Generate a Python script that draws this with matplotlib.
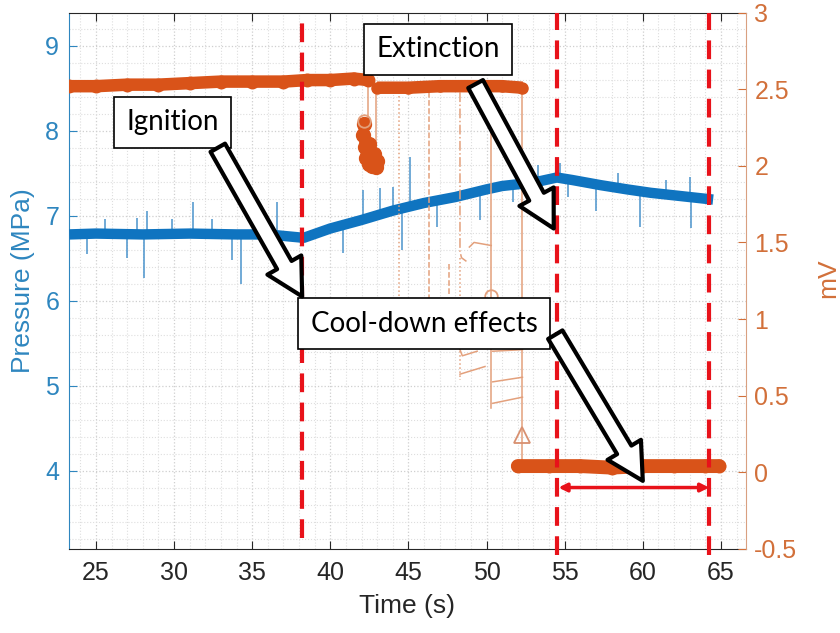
import matplotlib.pyplot as plt
from matplotlib.ticker import MultipleLocator, FormatStrFormatter

# pressure trace (MPa) - centre of the noisy band
p_time = [23.3, 25, 28, 31, 34, 36, 38.3, 40, 42, 44, 46, 48, 50, 51, 52, 53.5, 54.5,
          55.5, 57.3, 59, 60.5, 62, 64.5]
p_val = [6.78, 6.79, 6.78, 6.79, 6.78, 6.78, 6.74, 6.85, 6.95, 7.06, 7.15, 7.22, 7.31,
         7.35, 7.37, 7.41, 7.45, 7.42, 7.36, 7.31, 7.27, 7.24, 7.19]

# spikes on the pressure trace: time, band value, spike tip
spike_t = [24.4, 25.6, 27.0, 27.6, 28.1, 28.3, 29.9, 31.2, 32.4, 33.7, 34.3, 35.5, 36.6,
           40.8, 42.1, 43.2, 44.0, 44.6, 45.1, 46.8, 49.6, 51.7, 53.3, 54.7, 55.2, 57.0,
           58.4, 59.8, 61.5, 63.0, 63.1]
spike_base = [6.78, 6.79, 6.78, 6.78, 6.78, 6.78, 6.79, 6.79, 6.78, 6.78, 6.78, 6.78, 6.78,
              6.87, 6.96, 7.02, 7.05, 7.08, 7.10, 7.17, 7.29, 7.36, 7.40, 7.45, 7.43, 7.37,
              7.33, 7.29, 7.26, 7.22, 7.22]
spike_tip = [6.55, 6.96, 6.50, 6.97, 6.27, 7.05, 6.96, 7.16, 6.96, 6.48, 6.20, 6.97, 7.16,
             6.56, 7.30, 7.33, 7.34, 6.60, 7.69, 6.87, 6.95, 7.16, 7.60, 7.62, 7.22, 7.05,
             7.50, 6.87, 7.42, 7.46, 6.86]

# mV signal, thick segments
band1_t = [23.3, 25, 27, 29, 31, 33, 35, 37, 38.5, 40, 41.5, 42.4]
band1_v = [2.52, 2.52, 2.53, 2.53, 2.54, 2.55, 2.55, 2.55, 2.56, 2.56, 2.57, 2.56]
band2_t = [43.0, 45, 47, 49, 51, 52.3]
band2_v = [2.51, 2.51, 2.52, 2.52, 2.52, 2.51]
band3_t = [52.0, 54, 56, 58, 60, 62, 64, 64.9]
band3_v = [0.04, 0.04, 0.04, 0.03, 0.04, 0.04, 0.04, 0.04]
blob_t = [42.15, 42.1, 42.2, 42.3, 42.45, 42.7, 42.9, 43.0, 42.8, 42.5]
blob_v = [2.27, 2.20, 2.12, 2.05, 2.01, 2.00, 1.99, 2.03, 2.08, 2.14]

# mV signal, thin traces during the extinction
thin_traces = [
    ([42.4, 42.4], [2.52, 2.28], '-'),
    ([42.95, 42.95], [2.50, 2.02], '-'),
    ([44.4, 44.4], [2.48, 0.85], ':'),
    ([46.3, 46.3], [2.48, 0.80], '--'),
    ([47.6, 47.6], [1.36, 1.15], '--'),
    ([48.3, 48.3, 48.4, 48.8], [2.48, 1.44, 1.40, 1.37], '-.'),
    ([48.3, 48.3], [1.40, 0.60], ':'),
    ([48.3, 48.45, 49.4], [0.80, 0.76, 0.79], '-'),
    ([48.3, 49.9], [0.64, 0.69], '-'),
    ([48.9, 49.2, 50.3], [1.47, 1.50, 1.48], '-'),
    ([50.3, 50.3], [2.48, 0.42], '-'),
    ([50.4, 52.3], [0.79, 0.80], '-'),
    ([50.4, 52.3], [0.59, 0.62], '-'),
    ([50.4, 52.3], [0.45, 0.49], '-'),
    ([52.3, 52.3], [2.50, 0.04], '-'),
]
open_circles = ([42.15, 50.3], [2.29, 1.15])
open_triangle = ([52.3], [0.24])

# events
ignition_t = 38.2
extinction_t = 54.5
end_t = 64.25

blue = '#0F74C0'
blue_lbl = '#2E86BF'
orange = '#D95319'
orange_lbl = '#D2703A'
red = '#E8121A'
dark = '#262626'

plt.rcParams['font.family'] = ['Liberation Sans', 'DejaVu Sans']

fig = plt.figure(figsize=(8.4, 6.33), dpi=100)
ax = fig.add_axes([0.082, 0.133, 0.806, 0.847])
ax2 = ax.twinx()

# pressure
ax.vlines(spike_t, spike_base, spike_tip, color='#4A93CC', lw=1.1, zorder=2)
ax.plot(p_time, p_val, color=blue, lw=7.5, solid_capstyle='butt', zorder=3)

# mV
for t, v, ls in thin_traces:
    ax2.plot(t, v, color='#E3A07C', lw=1.1, ls=ls)
ax2.plot(band1_t, band1_v, color=orange, lw=9, marker='o', ms=9, solid_capstyle='round')
ax2.plot(band2_t, band2_v, color=orange, lw=9, marker='o', ms=8, solid_capstyle='butt')
ax2.plot(band3_t, band3_v, color=orange, lw=10, marker='o', ms=9, solid_capstyle='round')
ax2.plot(blob_t, blob_v, color=orange, lw=7, marker='o', ms=10)
ax2.plot(*open_circles, 'o', ms=9, mfc='none', mec='#E3A07C', mew=1.3)
ax2.plot(*open_triangle, '^', ms=11, mfc='none', mec='#D89070', mew=1.3)

ax.set_xlim(23.27, 66.6)
ax.set_ylim(3.08, 9.39)
ax2.set_ylim(-0.5, 3)

ax.xaxis.set_major_locator(MultipleLocator(5))
ax.xaxis.set_minor_locator(MultipleLocator(1))
ax.yaxis.set_major_locator(MultipleLocator(1))
ax.yaxis.set_minor_locator(MultipleLocator(0.2))
ax2.yaxis.set_major_locator(MultipleLocator(0.5))
ax2.yaxis.set_major_formatter(FormatStrFormatter('%g'))
ax.set_yticks([4, 5, 6, 7, 8, 9])

ax.grid(which='major', color='#cfcfcf', ls=':', lw=0.9)
ax.grid(which='minor', color='#dedede', ls=':', lw=0.8)
ax.set_axisbelow(True)

ax.tick_params(which='major', direction='in', length=6, top=True, labelsize=18,
               colors=dark, pad=9)
ax.tick_params(which='minor', length=0, top=True)
ax.tick_params(axis='y', which='major', colors=blue_lbl, pad=7)
ax2.tick_params(axis='y', direction='in', length=6, labelsize=18, colors=orange_lbl, pad=6)

ax.spines['left'].set_color(blue_lbl)
ax.spines['right'].set_visible(False)
ax.spines['top'].set_color(dark)
ax.spines['bottom'].set_color(dark)
ax2.spines['left'].set_visible(False)
ax2.spines['top'].set_visible(False)
ax2.spines['bottom'].set_visible(False)
ax2.spines['right'].set_color('#D9A080')

ax.set_xlabel('Time (s)', fontsize=19, color=dark, labelpad=6)
ax.set_ylabel('Pressure (MPa)', fontsize=19, color=blue_lbl)
ax.yaxis.set_label_coords(-0.05, 0.5)
ax2.set_ylabel('mV', fontsize=19, color=orange_lbl)
ax2.yaxis.set_label_coords(1.104, 0.505)

# event markers
ax2.axvline(ignition_t, ymin=0.02, ymax=1, color=red, lw=3, ls=(0, (4.5, 2.5)), zorder=5)
for t in [extinction_t, end_t]:
    ax2.axvline(t, ymin=-0.012, ymax=1, color=red, lw=3, ls=(0, (4.5, 2.5)),
                clip_on=False, zorder=5)
ax2.annotate('', xy=(end_t, -0.1), xytext=(extinction_t + 0.1, -0.1),
             arrowprops=dict(arrowstyle='<|-|>', color=red, lw=2.5, mutation_scale=12,
                             shrinkA=0, shrinkB=0), zorder=6)

box = dict(boxstyle='square,pad=0.45', fc='white', ec='black', lw=1.2)
labels = [('Ignition', 29.9, 8.1), ('Extinction', 46.9, 8.96), ('Cool-down effects', 46.0, 5.73)]
for s, x, y in labels:
    ax2.text(x, y, s, transform=ax.transData, ha='center', va='center', fontsize=20,
             family='Lato', color='black', bbox=box, zorder=7)

block = dict(arrowstyle='simple,head_length=1.3,head_width=1.4,tail_width=0.6',
             mutation_scale=20, fc='white', ec='black', lw=3, shrinkA=0, shrinkB=0)
arrows = [((32.8, 7.8), (38.2, 6.05)), ((49.3, 8.55), (54.3, 6.85)),
          ((54.4, 5.6), (60.0, 3.88))]
for start, tip in arrows:
    ax2.annotate('', xy=tip, xycoords=ax.transData, xytext=start, textcoords=ax.transData,
                 arrowprops=block, zorder=8)

fig.savefig('out.png', dpi=100)
